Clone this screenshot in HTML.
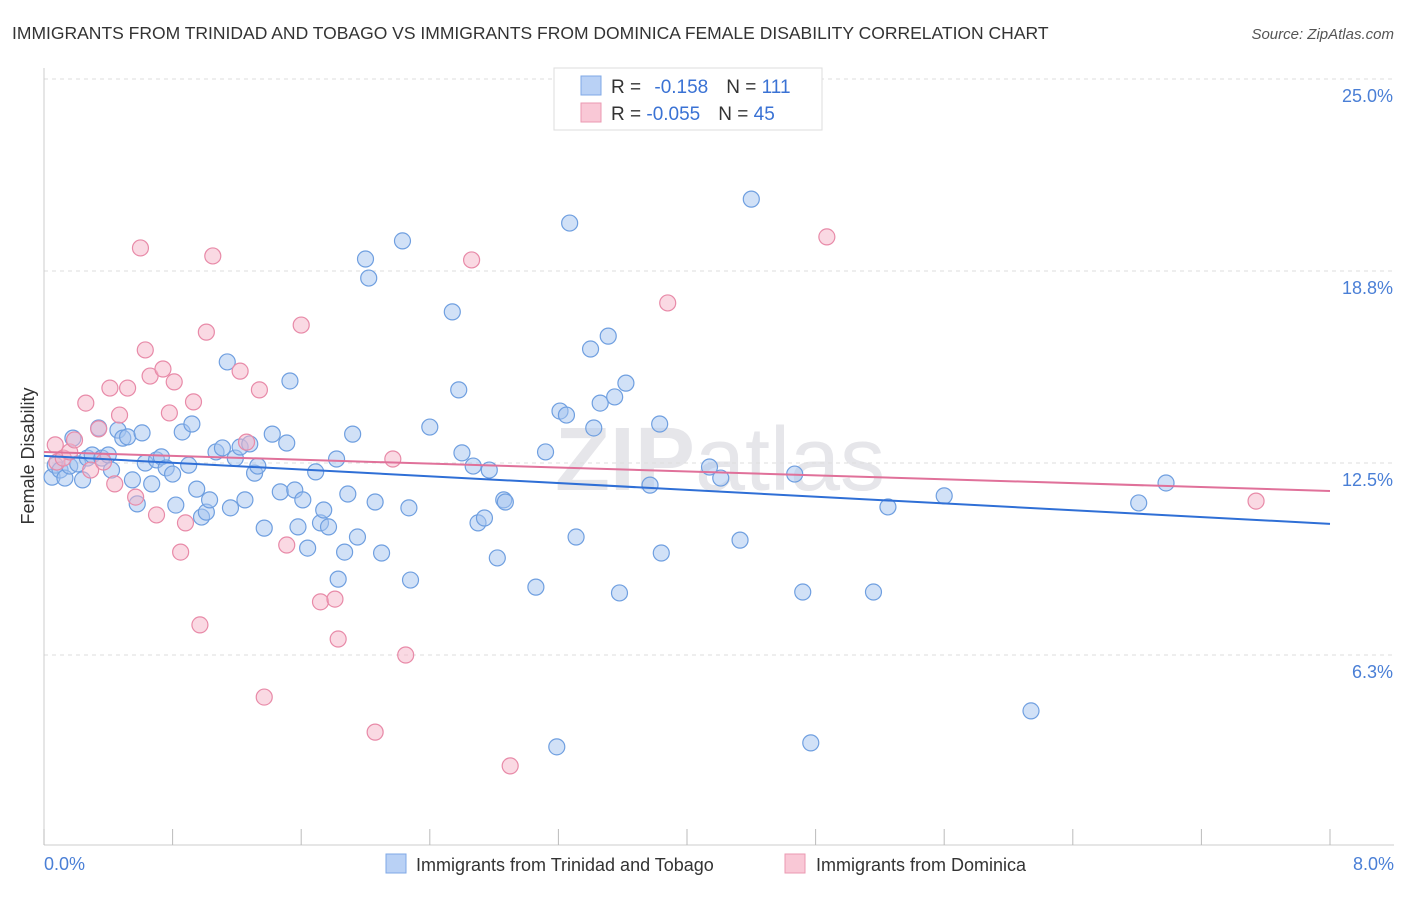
<!DOCTYPE html>
<html><head><meta charset="utf-8"><style>
body{margin:0;background:#fff;font-family:"Liberation Sans",sans-serif;}
</style></head><body>
<svg id="chart" width="1406" height="892" xmlns="http://www.w3.org/2000/svg" font-family="Liberation Sans, sans-serif">
<text x="12" y="39" font-size="17.5" fill="#333">IMMIGRANTS FROM TRINIDAD AND TOBAGO VS IMMIGRANTS FROM DOMINICA FEMALE DISABILITY CORRELATION CHART</text>
<text x="1394" y="39" font-size="15" fill="#555" text-anchor="end" font-style="italic">Source: ZipAtlas.com</text>
<text x="720" y="490" font-size="90" fill="#e6e6ea" text-anchor="middle" font-weight="bold">ZIP<tspan font-weight="normal">atlas</tspan></text>
<g id="grid"></g>
<line x1="44" y1="68" x2="44" y2="845" stroke="#ccc"/>
<line x1="44" y1="845" x2="1394" y2="845" stroke="#ccc"/>
<g id="xticks"></g>
<text transform="translate(34,456) rotate(-90)" font-size="18" fill="#333" text-anchor="middle">Female Disability</text>
<text x="44" y="870" font-size="18" fill="#4a7fd6">0.0%</text>
<text x="1394" y="870" font-size="18" fill="#4a7fd6" text-anchor="end">8.0%</text>
<g id="marks"></g>
<g>
<rect x="554" y="68" width="268" height="62" fill="#fff" stroke="#ddd"/>
<rect x="581" y="76" width="20" height="19" fill="#b9d1f5" stroke="#7fa8e6"/>
<rect x="581" y="103" width="20" height="19" fill="#f9c8d6" stroke="#eb99b2"/>
<text x="611" y="93" font-size="19" fill="#333">R = <tspan fill="#3a72d4" dx="8">-0.158</tspan><tspan dx="18" fill="#333">N = </tspan><tspan fill="#3a72d4">111</tspan></text>
<text x="611" y="120" font-size="19" fill="#333">R = <tspan fill="#3a72d4">-0.055</tspan><tspan dx="18" fill="#333">N = </tspan><tspan fill="#3a72d4">45</tspan></text>
</g>
<g>
<rect x="386" y="854" width="20" height="19" fill="#b9d1f5" stroke="#7fa8e6"/>
<text x="416" y="871" font-size="18" fill="#333">Immigrants from Trinidad and Tobago</text>
<rect x="785" y="854" width="20" height="19" fill="#f9c8d6" stroke="#eb99b2"/>
<text x="816" y="871" font-size="18" fill="#333">Immigrants from Dominica</text>
</g>
</svg>
<script>
const yTicks=[6.25,12.5,18.75,25];
const yTickLabels=["6.3%","12.5%","18.8%","25.0%"];
const xTicks=[0,0.8,1.6,2.4,3.2,4,4.8,5.6,6.4,7.2,8];
const blueX=[.05,.07,.10,.13,.16,.18,.21,.24,.27,.30,.34,.36,.40,.42,.46,.49,.52,.55,.58,.61,.63,.67,.70,.73,.76,.80,.82,.86,.90,.92,.95,.98,1.01,1.03,1.07,1.11,1.14,1.16,1.19,1.22,1.25,1.28,1.31,1.33,1.37,1.42,1.47,1.51,1.53,1.56,1.58,1.61,1.64,1.69,1.72,1.74,1.77,1.82,1.83,1.87,1.89,1.92,1.95,2.00,2.02,2.06,2.10,2.23,2.27,2.28,2.40,2.54,2.58,2.60,2.67,2.70,2.74,2.77,2.82,2.86,2.87,3.06,3.12,3.19,3.21,3.25,3.27,3.31,3.40,3.42,3.46,3.51,3.55,3.58,3.62,3.77,3.83,3.84,4.14,4.21,4.33,4.40,4.67,4.72,4.77,5.16,5.25,5.60,6.14,6.81,6.98];
const blueY=[12.04,12.43,12.27,12.01,12.40,13.31,12.47,11.95,12.66,12.76,13.64,12.66,12.76,12.27,13.57,13.31,13.35,11.95,11.17,13.48,12.50,11.82,12.60,12.70,12.34,12.14,11.13,13.51,12.43,13.77,11.65,10.74,10.90,11.30,12.86,12.99,15.79,11.04,12.66,13.02,11.30,13.12,12.17,12.40,10.38,13.44,11.56,13.15,15.17,11.62,10.42,11.30,9.73,12.21,10.55,10.97,10.42,12.63,8.72,9.60,11.49,13.44,10.09,19.14,18.52,11.23,9.57,19.73,11.04,8.69,13.67,17.42,14.88,12.83,12.40,10.55,10.71,12.27,9.41,11.30,11.23,8.46,12.86,3.26,14.19,14.06,20.31,10.09,16.21,13.64,14.45,16.63,14.65,8.27,15.10,11.78,13.77,9.57,12.37,12.01,9.99,21.09,12.14,8.30,3.39,8.30,11.07,11.43,4.43,11.20,11.85];
const pinkX=[.07,.08,.12,.16,.19,.26,.29,.34,.37,.41,.44,.47,.52,.57,.60,.63,.66,.70,.74,.78,.81,.85,.88,.93,.97,1.01,1.05,1.22,1.26,1.34,1.37,1.51,1.60,1.72,1.81,1.83,2.06,2.17,2.25,2.66,2.90,3.88,4.87,7.54];
const pinkY=[13.09,12.53,12.66,12.86,13.25,14.45,12.27,13.61,12.53,14.94,11.82,14.06,14.94,11.39,19.50,16.18,15.33,10.81,15.56,14.13,15.14,9.60,10.55,14.49,7.23,16.76,19.24,15.49,13.18,14.88,4.88,9.83,16.99,7.98,8.07,6.77,3.74,12.63,6.25,19.11,2.64,17.71,19.86,11.26];
const blueTrend=[12.73,10.52];
const pinkTrend=[12.86,11.59];
const NS="http://www.w3.org/2000/svg";
const xs=v=>44+v*(1286/8);
const ys=v=>847-v*30.72;
const grid=document.getElementById('grid');
yTicks.forEach((t,i)=>{
 const l=document.createElementNS(NS,'line');
 
 
 l.setAttribute('x1',44);l.setAttribute('x2',1394);l.setAttribute('y1',ys(t));l.setAttribute('y2',ys(t));
 l.setAttribute('stroke','#ddd');l.setAttribute('stroke-dasharray','4,4');
 grid.appendChild(l);
 const tx=document.createElementNS(NS,'text');
 
 
 tx.setAttribute('x',1393);tx.setAttribute('y',ys(t)+23);tx.setAttribute('text-anchor','end');
 tx.setAttribute('font-size','18');tx.setAttribute('fill','#4a7fd6');tx.textContent=yTickLabels[i];
 grid.appendChild(tx);
});
const xt=document.getElementById('xticks');
xTicks.forEach(t=>{
 const l=document.createElementNS(NS,'line');
 
 
 l.setAttribute('x1',xs(t));l.setAttribute('x2',xs(t));l.setAttribute('y1',829);l.setAttribute('y2',845);
 l.setAttribute('stroke','#bbb');xt.appendChild(l);
});
const marks=document.getElementById('marks');
function dots(X,Y,fill,stroke,name){
 X.forEach((x,i)=>{
  const c=document.createElementNS(NS,'circle');
  
  
  c.setAttribute('cx',xs(x));c.setAttribute('cy',ys(Y[i]));c.setAttribute('r',8);
  c.setAttribute('fill',fill);c.setAttribute('stroke',stroke);c.setAttribute('stroke-width','1.2');
  marks.appendChild(c);
 });
}
dots(blueX,blueY,'rgba(164,196,240,0.5)','#6f9fe0','trinidad-point');
dots(pinkX,pinkY,'rgba(246,180,200,0.5)','#e88aa8','dominica-point');
function trend(T,color,name){
 const l=document.createElementNS(NS,'line');
 
 
 l.setAttribute('x1',xs(0));l.setAttribute('y1',ys(T[0]));l.setAttribute('x2',xs(8));l.setAttribute('y2',ys(T[1]));
 l.setAttribute('stroke',color);l.setAttribute('stroke-width','2');
 marks.appendChild(l);
}
trend(blueTrend,'#2f6fd6','trinidad-trend-line');
trend(pinkTrend,'#e0719a','dominica-trend-line');
</script>
</body></html>
